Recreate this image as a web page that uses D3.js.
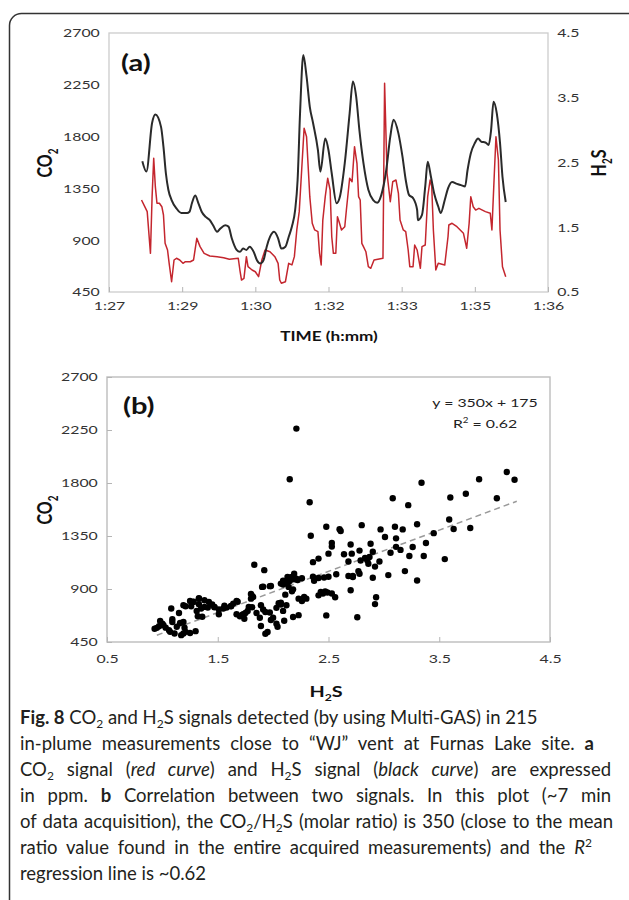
<!DOCTYPE html>
<html><head><meta charset="utf-8">
<script src="https://cdn.jsdelivr.net/npm/d3@7"></script>
<style>body{margin:0;background:#fff;} svg{display:block;}</style>
</head><body><svg id="c" width="629" height="900"></svg>
<script>
// ---------------- DATA ----------------
// Panel (a): time in seconds after 1:27:00
const timeTicks = [0, 90, 180, 270, 360, 450, 540];
const timeLabels = ["1:27", "1:29", "1:30", "1:32", "1:33", "1:35", "1:36"];
const co2Ticks = [450, 900, 1350, 1800, 2250, 2700];
const h2sTicks = [0.5, 1.5, 2.5, 3.5, 4.5];
const h2sScatterTicks = [0.5, 1.5, 2.5, 3.5, 4.5];

// black curve (H2S, right axis)
const blackSec = [41,46,53,57,64,67,70,73,77,83,89,96,99,102,106,110,114,119,124,128,133,137,143,147,151,157,161,165,169,173,178,182,186,190,194,198,203,208,212,217,221,225,229,232,235,239,243,247,251,257,260,266,270,274,280,284,290,296,300,304,308,313,319,325,330,335,341,346,350,356,361,365,369,374,379,380,385,389,392,396,400,405,408,413,417,422,428,433,438,441,445,450,454,458,463,467,470,473,477,481,484,488];
const blackH2S = [2.52,2.36,3.11,3.24,3.05,2.74,2.33,2.08,1.92,1.79,1.72,1.72,1.74,1.87,1.99,1.87,1.74,1.66,1.61,1.53,1.43,1.48,1.53,1.51,1.33,1.15,1.12,1.17,1.15,1.20,1.12,0.99,0.94,0.99,1.20,1.35,1.43,1.33,1.17,1.20,1.35,1.51,1.77,2.23,3.26,4.16,3.83,3.36,3.11,2.69,2.36,2.87,2.69,2.33,1.87,1.97,2.49,3.26,3.75,3.52,3.00,2.49,2.08,1.92,1.88,2.00,2.38,2.90,3.16,2.95,2.59,2.23,2.00,1.95,1.77,1.61,1.69,2.13,2.51,2.28,2.02,1.82,1.72,1.92,2.10,2.20,2.17,2.15,2.13,2.38,2.64,2.80,2.87,2.82,2.81,2.77,3.00,3.44,3.26,2.80,2.28,1.89];

// red curve (CO2, left axis)
const redSec = [40,44,47,50,51,53,55,57,59,62,65,67,69,72,74,77,80,83,87,91,94,100,104,108,112,117,124,133,141,148,159,161,163,166,169,171,176,180,184,188,192,198,204,208,210,212,217,221,225,228,231,234,237,240,243,247,250,253,257,259,261,263,266,269,272,274,276,279,281,283,286,290,292,296,299,302,305,307,309,311,313,316,319,322,326,337,339,342,346,349,353,356,358,362,365,368,370,374,376,379,383,385,389,392,395,397,399,402,405,413,417,418,422,428,432,436,440,443,445,448,451,455,463,469,471,474,476,479,481,484,488];
const redCO2 = [1249,1191,1148,873,786,1278,1611,1365,1221,1221,1191,1119,873,815,699,539,728,743,728,699,713,713,728,916,844,786,763,757,748,734,743,641,554,569,757,670,641,626,583,728,815,800,757,699,554,526,539,699,685,757,989,1148,1510,1872,1799,1278,1047,989,974,786,685,1075,1278,1438,1336,930,786,786,1104,1061,989,1017,1162,1438,1408,1712,1568,1278,1249,873,844,800,670,656,728,743,2263,1481,1234,1408,1423,1307,1075,989,974,815,670,670,858,815,656,844,858,1278,1423,1365,989,641,699,685,930,1032,1047,1017,989,960,830,1047,1278,1191,1162,1177,1148,1134,989,1481,1799,1597,989,670,583];

// Panel (b): scatter [H2S, CO2]
const scatterPoints = [
[2.21,2262],[2.15,1832],[2.33,1636],[3.34,1802],[3.86,1832],[4.11,1894],[4.18,1828],[3.74,1709],[4.02,1670],[3.60,1677],
[3.08,1670],[3.22,1612],[3.59,1490],[3.78,1418],[3.63,1410],[3.45,1374],[3.30,1450],[3.38,1290],[3.55,1154],[3.36,1180],
[3.23,1180],[3.30,972],[3.19,1052],[3.04,1018],[3.17,1406],[3.10,1428],[2.97,1406],[3.01,1342],[3.11,1330],[3.11,1258],
[3.15,1232],[3.26,1256],[3.06,1208],[2.96,1134],[2.92,1090],[2.90,996],[2.93,830],[2.92,772],[2.76,660],[2.80,1442],
[2.88,1284],[2.90,1216],[2.78,1226],[2.71,1200],[2.68,1134],[2.79,1142],[2.83,1163],[2.85,1145],[2.87,1172],[2.86,1115],
[2.77,1052],[2.72,1010],[2.78,1030],[2.70,1278],[2.64,1195],[2.60,1408],[2.61,1392],[2.53,1290],[2.53,1260],[2.50,1200],
[2.48,1428],[2.57,1025],[2.50,1004],[2.46,998],[2.41,994],[2.70,890],[2.68,1010],[2.72,1002],[2.56,830],[2.53,862],
[2.49,870],[2.45,862],[2.43,876],[2.41,846],[2.47,880],[2.48,676],[2.41,1158],[2.36,1128],[2.36,1004],[2.37,970],
[2.34,1352],[2.30,818],[2.28,832],[2.26,798],[2.23,818],[2.21,988],[2.19,1030],[2.17,1002],[2.23,678],[2.18,662],
[2.17,880],[2.14,918],[2.11,852],[2.12,762],[2.09,714],[2.07,784],[2.09,938],[2.11,955],[2.15,968],[2.19,982],
[2.13,1002],[2.07,946],[2.07,768],[2.03,740],[2.03,606],[2.00,656],[1.97,700],[1.95,535],[1.93,520],[1.97,924],
[1.92,1060],[1.90,918],[1.89,762],[1.91,726],[1.93,705],[1.89,586],[1.88,656],[1.85,696],[1.83,1106],[1.82,832],
[1.81,842],[1.80,818],[1.78,748],[1.77,713],[1.75,696],[1.73,686],[1.74,648],[1.70,668],[1.67,798],[1.67,686],
[1.64,776],[1.62,754],[1.58,742],[1.56,758],[1.55,734],[1.51,726],[1.51,686],[1.47,748],[1.45,768],[1.42,790],
[1.41,742],[1.38,804],[1.38,748],[1.35,734],[1.33,818],[1.33,770],[1.31,714],[1.32,668],[1.28,790],[1.26,754],
[1.25,798],[1.21,754],[1.19,762],[1.15,696],[1.16,612],[1.19,620],[1.20,572],[1.19,522],[1.17,508],[1.21,536],
[1.25,526],[1.30,542],[1.11,522],[1.07,536],[1.09,620],[1.08,734],[1.06,550],[1.03,572],[1.01,592],[0.98,628],
[1.00,606],[0.95,570],[0.97,584],[0.93,563],[1.09,643],[1.13,580],[1.33,821],[1.28,792],[1.36,665],[1.47,745],
[1.62,756],[1.68,792],[1.72,679],[1.81,745],[1.80,857],[2.04,580],[2.10,631],[2.05,779],[2.16,999],[2.22,976],
[2.26,991],[2.18,897],[1.98,925],[1.91,920],[1.98,637],[2.12,948],[2.09,970]
];
const trendSlope = 350, trendIntercept = 175;
const trendRange = [0.95, 4.2];
const trendText = ["y = 350x + 175", "0.62"];

// ---------------- DRAWING ----------------
const svg = d3.select('#c');
const CF = "Lato, 'Open Sans', Arial, sans-serif";
const SX = 1.32;

// outer rounded frame
svg.append('rect').attr('x', 9.5).attr('y', 13.5).attr('width', 680).attr('height', 960)
  .attr('rx', 12).attr('fill', 'none').attr('stroke', '#333').attr('stroke-width', 1.5);

// parts: [text, kind]
function label(x, y, parts, o) {
  o = o || {};
  const t = svg.append('text')
    .attr('transform', `translate(${x},${y}) scale(${SX},1)` + (o.rot ? ' rotate(-90)' : ''))
    .attr('font-family', CF).attr('font-size', o.size || 12)
    .attr('font-weight', o.bold ? 700 : 400)
    .attr('fill', o.fill || '#222')
    .attr('text-anchor', o.anchor || 'start');
  const fs = o.size || 12;
  let shift = 0;
  parts.forEach(p => {
    const s = t.append('tspan').text(p[0]);
    let want = 0;
    if (p[1] === 'sub') { s.attr('font-size', fs * 0.62); want = fs * 0.28; }
    if (p[1] === 'sup') { s.attr('font-size', fs * 0.62); want = -fs * 0.4; }
    if (want !== shift) s.attr('dy', want - shift);
    shift = want;
  });
  return t;
}

function styleAxis(g) {
  g.select('.domain').remove();
  g.selectAll('text').attr('font-family', CF).attr('font-size', 12).attr('fill', '#333')
    .attr('transform', `scale(${SX},1)`);
  g.selectAll('line').attr('stroke', '#b5b5b5').attr('stroke-width', 1);
}

// ---- Panel (a)
const A = {l: 109, r: 548, t: 33, b: 292};
const xA = d3.scaleLinear().domain([0, 540]).range([A.l, A.r]);
const yA = d3.scaleLinear().domain([450, 2700]).range([A.b, A.t]);
const yA2 = d3.scaleLinear().domain([0.5, 4.5]).range([A.b, A.t]);

svg.append('rect').attr('x', A.l).attr('y', A.t).attr('width', A.r - A.l).attr('height', A.b - A.t)
  .attr('fill', 'none').attr('stroke', '#cccccc').attr('stroke-width', 1.3);

svg.append('g').attr('transform', `translate(${A.l},0)`)
  .call(d3.axisLeft(yA).tickValues(co2Ticks).tickSize(0).tickPadding(7).tickFormat(d3.format('d')))
  .call(styleAxis);
svg.append('g').attr('transform', `translate(${A.r},0)`)
  .call(d3.axisRight(yA2).tickValues(h2sTicks).tickSize(0).tickPadding(7).tickFormat(d3.format('.1f')))
  .call(styleAxis);
svg.append('g').attr('transform', `translate(0,${A.b})`)
  .call(d3.axisBottom(xA).tickValues(timeTicks).tickFormat((d, i) => timeLabels[i]).tickSizeInner(-5).tickSizeOuter(0).tickPadding(9))
  .call(styleAxis);

const lineRed = d3.line().x((d, i) => xA(redSec[i])).y(d => yA(d));
svg.append('path').datum(redCO2).attr('d', lineRed).attr('fill', 'none')
  .attr('stroke', '#c4262e').attr('stroke-width', 1.5).attr('stroke-linejoin', 'round');
const lineBlack = d3.line().x((d, i) => xA(blackSec[i])).y(d => yA2(d)).curve(d3.curveMonotoneX);
svg.append('path').datum(blackH2S).attr('d', lineBlack).attr('fill', 'none')
  .attr('stroke', '#2a2a2a').attr('stroke-width', 2).attr('stroke-linejoin', 'round');

label(121, 71, [["(a)"]], {size: 22, bold: true, fill: '#111'});
label(52, 163, [["CO"], ["2", "sub"]], {size: 16, bold: true, rot: true, anchor: 'middle', fill: '#111'});
label(606, 163, [["H"], ["2", "sub"], ["S"]], {size: 16, bold: true, rot: true, anchor: 'middle', fill: '#111'});
label(329, 341, [["TIME (h:mm)"]], {size: 13, bold: true, anchor: 'middle', fill: '#111'});

// ---- Panel (b)
const B = {l: 107, r: 550, t: 377, b: 642};
const xB = d3.scaleLinear().domain([0.5, 4.5]).range([B.l, B.r]);
const yB = d3.scaleLinear().domain([450, 2700]).range([B.b, B.t]);

svg.append('rect').attr('x', B.l).attr('y', B.t).attr('width', B.r - B.l).attr('height', B.b - B.t)
  .attr('fill', 'none').attr('stroke', '#bdbdbd').attr('stroke-width', 1.4);

svg.append('g').attr('transform', `translate(${B.l},0)`)
  .call(d3.axisLeft(yB).tickValues(co2Ticks).tickSizeInner(-5).tickSizeOuter(0).tickPadding(7).tickFormat(d3.format('d')))
  .call(styleAxis)
  .call(g => g.selectAll('text').attr('x', -7));
svg.append('g').attr('transform', `translate(0,${B.b})`)
  .call(d3.axisBottom(xB).tickValues(h2sScatterTicks).tickFormat(d3.format('.1f')).tickSizeInner(-5).tickSizeOuter(0).tickPadding(12))
  .call(styleAxis);

svg.append('line')
  .attr('x1', xB(trendRange[0])).attr('y1', yB(trendSlope * trendRange[0] + trendIntercept))
  .attr('x2', xB(trendRange[1])).attr('y2', yB(trendSlope * trendRange[1] + trendIntercept))
  .attr('stroke', '#9a9a9a').attr('stroke-width', 1.5).attr('stroke-dasharray', '6,4');

svg.append('g').selectAll('circle').data(scatterPoints).join('circle')
  .attr('cx', d => xB(d[0])).attr('cy', d => yB(d[1])).attr('r', 3.2).attr('fill', '#000');

label(123, 414, [["(b)"]], {size: 22, bold: true, fill: '#111'});
label(485, 407, [[trendText[0]]], {size: 12, anchor: 'middle', fill: '#222'});
label(485, 428, [["R"], ["2", "sup"], [" = " + trendText[1]]], {size: 12, anchor: 'middle', fill: '#222'});
label(52, 510, [["CO"], ["2", "sub"]], {size: 16, bold: true, rot: true, anchor: 'middle', fill: '#111'});
label(326, 697, [["H"], ["2", "sub"], ["S"]], {size: 15, bold: true, anchor: 'middle', fill: '#111'});

// ---- Caption
const capLines = [
  [["Fig. 8", "b"], [" CO"], ["2", "sub"], [" and H"], ["2", "sub"], ["S signals detected (by using Multi-GAS) in 215"]],
  [["in-plume measurements close to \u201CWJ\u201D vent at Furnas Lake site. "], ["a", "b"]],
  [["CO"], ["2", "sub"], [" signal ("], ["red curve", "i"], [") and H"], ["2", "sub"], ["S signal ("], ["black curve", "i"], [") are expressed"]],
  [["in ppm. "], ["b", "b"], [" Correlation between two signals. In this plot (~7 min"]],
  [["of data acquisition), the CO"], ["2", "sub"], ["/H"], ["2", "sub"], ["S (molar ratio) is 350 (close to the mean"]],
  [["ratio value found in the entire acquired measurements) and the "], ["R", "i"], ["2", "sup"]],
  [["regression line is ~0.62"]]
];
const capRight = [null, 594, 611, 611, 613, 592, null];
capLines.forEach((parts, li) => {
  const t = svg.append('text').attr('x', 20).attr('y', 724 + li * 26)
    .attr('font-family', CF).attr('font-size', 18.5).attr('fill', '#231f20');
  let shift = 0;
  parts.forEach(p => {
    const s = t.append('tspan').text(p[0]);
    let want = 0;
    if (p[1] === 'b') s.attr('font-weight', 700);
    if (p[1] === 'i') s.attr('font-style', 'italic');
    if (p[1] === 'sub') { s.attr('font-size', 12); want = 4; }
    if (p[1] === 'sup') { s.attr('font-size', 12); want = -7; }
    if (want !== shift) s.attr('dy', want - shift);
    shift = want;
  });
  if (capRight[li]) {
    const natural = t.node().getComputedTextLength();
    const full = parts.map(p => p[0]).join('');
    const spaces = (full.trimEnd().match(/ /g) || []).length;
    const extra = (capRight[li] - 20) - natural;
    if (spaces > 0 && extra > 0) t.attr('word-spacing', extra / spaces);
  }
});
</script></body></html>
